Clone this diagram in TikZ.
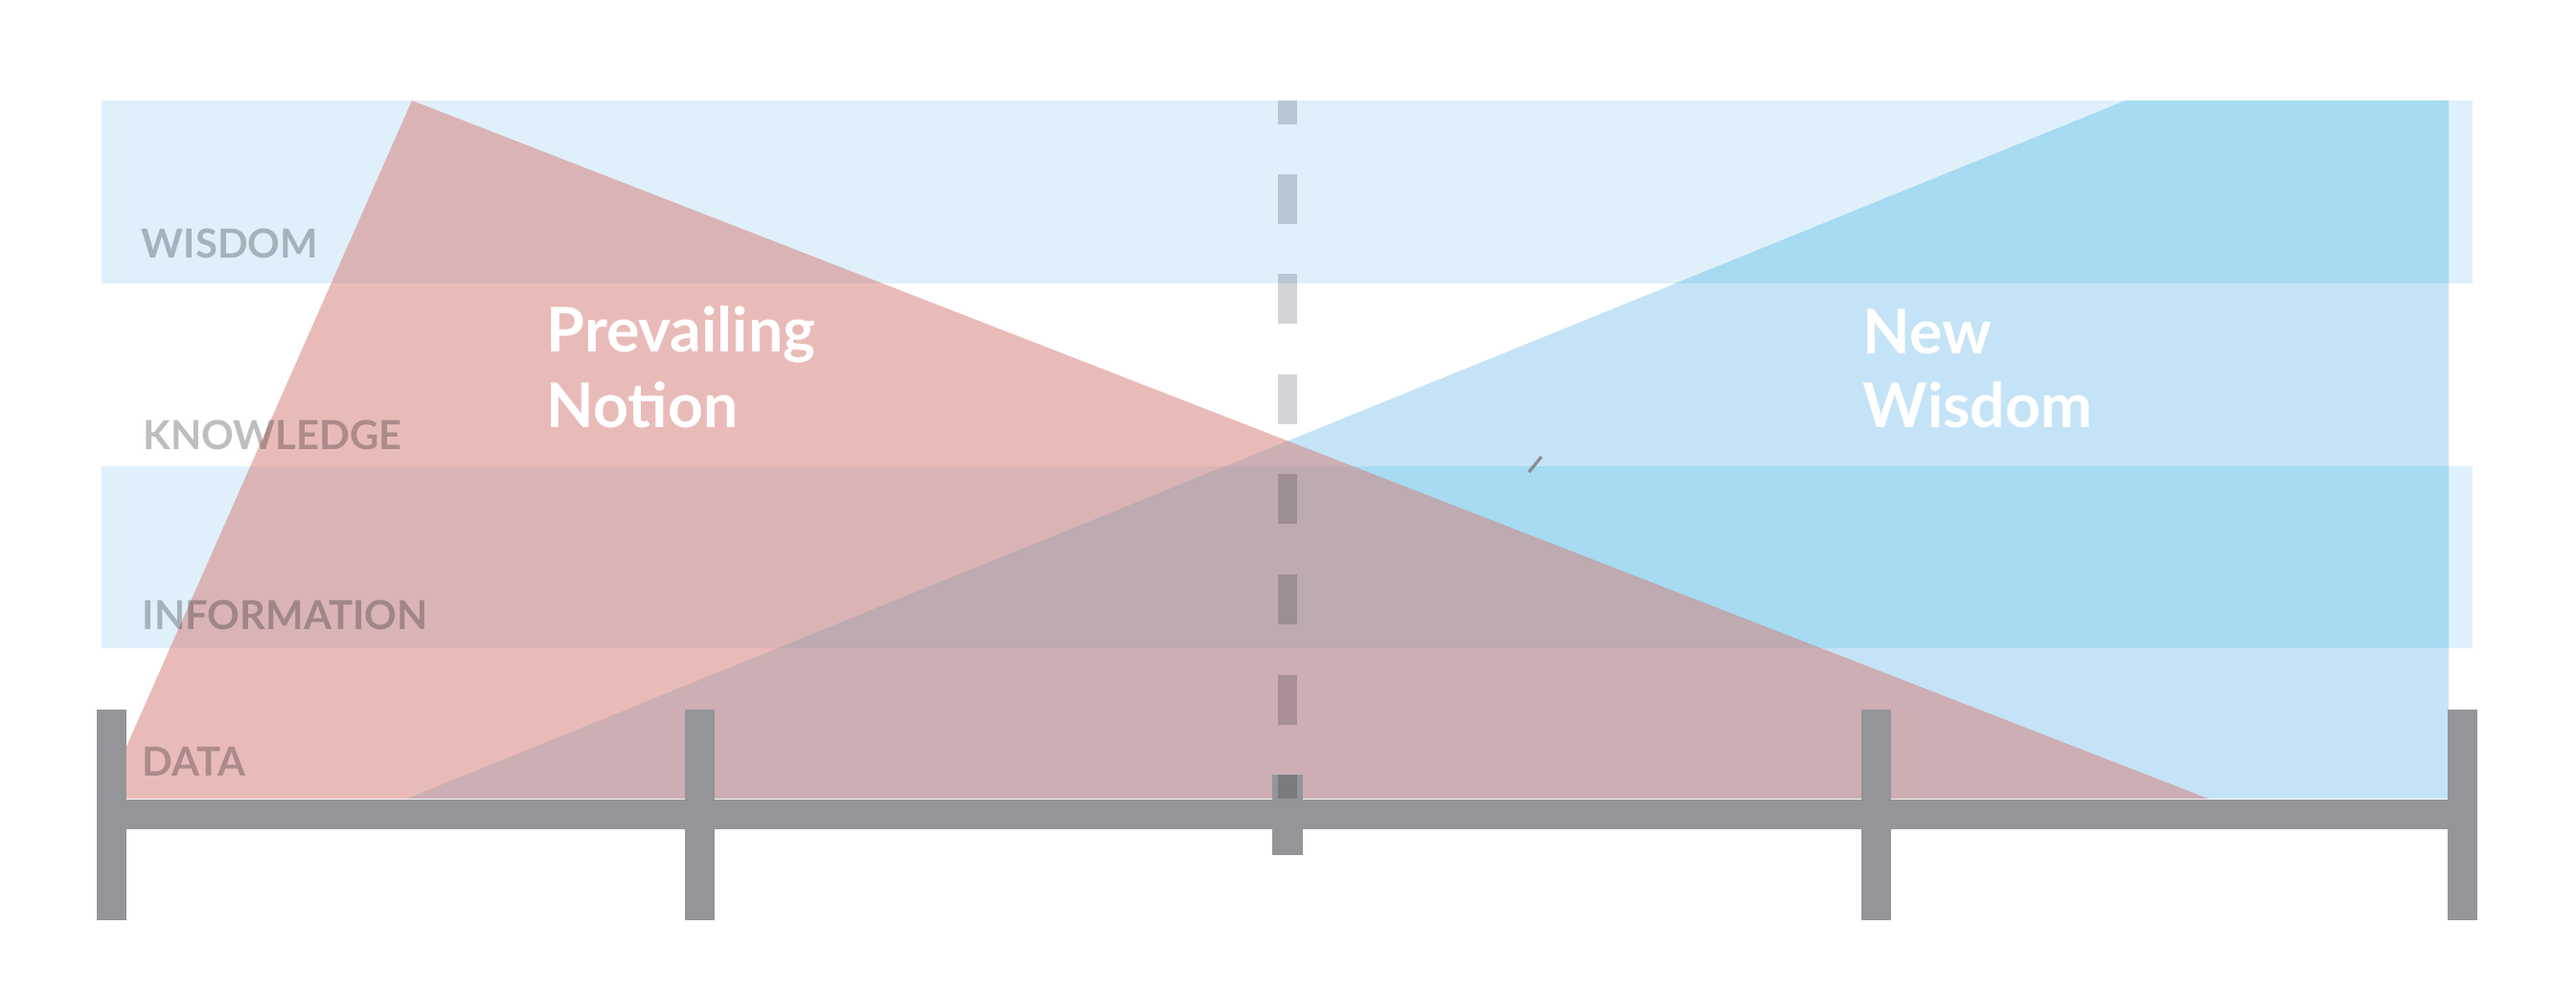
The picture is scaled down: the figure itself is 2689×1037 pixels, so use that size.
\documentclass[tikz,border=0pt]{standalone}
\usepackage{fontspec}
\setmainfont{Lato}
\definecolor{bandblue}{RGB}{223,240,250}
\definecolor{bluetri}{RGB}{197,227,246}
\definecolor{bluedeep}{RGB}{166,219,242}
\definecolor{redtri}{RGB}{214,125,118}
\definecolor{axisgray}{RGB}{148,149,153}
\definecolor{labelgray}{RGB}{189,190,192}
\definecolor{dashgray}{RGB}{211,212,215}
\definecolor{tickgray}{RGB}{140,140,142}
\begin{document}
\begin{tikzpicture}[x=0.01cm,y=-0.01cm,
  bandbox/.style={fill=bandblue},
  axispart/.style={fill=axisgray},
  dashpart/.style={fill=dashgray},
  lvl/.style={anchor=base west, inner sep=0pt, text=labelgray,
    font=\fontsize{11.9}{14}\selectfont\bfseries},
  ttl/.style={anchor=base west, inner sep=0pt, text=white,
    font=\fontsize{18.3}{22}\selectfont\bfseries}]
\useasboundingbox (0,0) rectangle (2689,1037);
\fill[white] (0,0) rectangle (2689,1037);
% bands
\fill[bandbox] (106,105) rectangle (2581,296);
\fill[bandbox] (106,487) rectangle (2581,677);
% blue wedge
\fill[bluetri] (425,834) -- (2219,105) -- (2556,105) -- (2556,834) -- cycle;
\begin{scope}
  \clip (425,834) -- (2219,105) -- (2556,105) -- (2556,834) -- cycle;
  \fill[bluedeep] (106,105) rectangle (2581,296);
  \fill[bluedeep] (106,487) rectangle (2581,677);
\end{scope}
% red wedge
\fill[redtri, opacity=0.517] (430,105) -- (2305,834) -- (108,834) -- cycle;
% labels and dashed divider (multiplied)
\begin{scope}[blend mode=multiply]
  \node[lvl] (wis) at (147,270) {WISDOM};
  \node[lvl] (kno) at (149,470) {KNOWLEDGE};
  \node[lvl] (inf) at (148,657) {INFORMATION};
  \node[lvl] (dat) at (148,810) {DATA};
  \fill[dashpart] (1334,105) rectangle (1354,130);
  \foreach \yy in {182,286.5,391,495.5,600,704.5}
    \fill[dashpart] (1334,\yy) rectangle (1354,\yy+52);
\end{scope}
% titles
\node[ttl] (pv) at (570,368) {Prevailing};
\node[ttl] (pn) at (570,447) {Notion};
\node[ttl] (nw) at (1944,370) {New};
\node[ttl] (ws) at (1944,447) {Wisdom};
% axis
\fill[axispart] (101,835) rectangle (2586,866);
\fill[axispart] (101,741) rectangle (132,961);
\fill[axispart] (715,741) rectangle (746,961);
\fill[axispart] (1943,741) rectangle (1974,961);
\fill[axispart] (2555,741) rectangle (2586,961);
\fill[axispart] (1328,809) rectangle (1360,893);
\fill[dashpart, blend mode=multiply] (1334,809) rectangle (1354,834);
% small stray tick
\draw[tickgray, line width=0.9pt] (1596,493) -- (1609,477);
\end{tikzpicture}
\end{document}
